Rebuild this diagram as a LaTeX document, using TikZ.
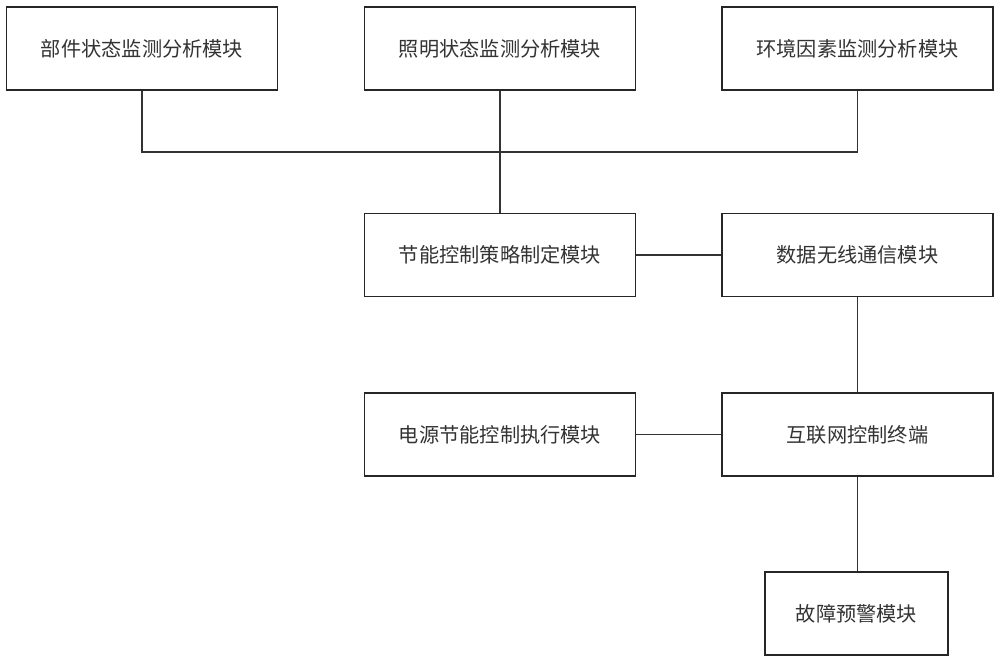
\documentclass[tikz,border=0pt]{standalone}
\usepackage{fontspec}
\setmainfont{Noto Sans CJK SC}
\usetikzlibrary{positioning}
\begin{document}
\begin{tikzpicture}[x=0.02cm,y=-0.02cm,-,thick,
                    main node/.style={rectangle,fill=white,draw=black!85,line width=0.8pt,font=\fontsize{11.5}{13}\selectfont,text=black!80,minimum width=5.42cm,minimum height=1.66cm,inner sep=0pt},
                    link/.style={draw=black!80,line width=0.8pt}]
\useasboundingbox (0,0) rectangle (1000,663);

\node[main node] (Part) at (142,48.5) {部件状态监测分析模块};
\node[main node] (Light) at (500,48.5) {照明状态监测分析模块};
\node[main node] (Env) at (857.5,48.5) {环境因素监测分析模块};

\node[main node] (Strategy) at (500,255) {节能控制策略制定模块};
\node[main node] (Wireless) at (857.5,255) {数据无线通信模块};

\node[main node] (Power) at (500,434.5) {电源节能控制执行模块};
\node[main node] (Terminal) at (857.5,434.5) {互联网控制终端};

\node[main node,minimum width=3.66cm] (Alarm) at (856.5,613.5) {故障预警模块};

\coordinate (Join) at (500,152);
\draw[link] (Part.south) |- (Join) -| (Env.south);
\draw[link] (Light.south) -- (Strategy.north);
\draw[link] (Strategy) -- (Wireless);
\draw[link] (Wireless.south) -- (Terminal.north);
\draw[link] (Power) -- (Terminal);
\draw[link] (Terminal.south) -- (Terminal.south |- Alarm.north);

\end{tikzpicture}
\end{document}
